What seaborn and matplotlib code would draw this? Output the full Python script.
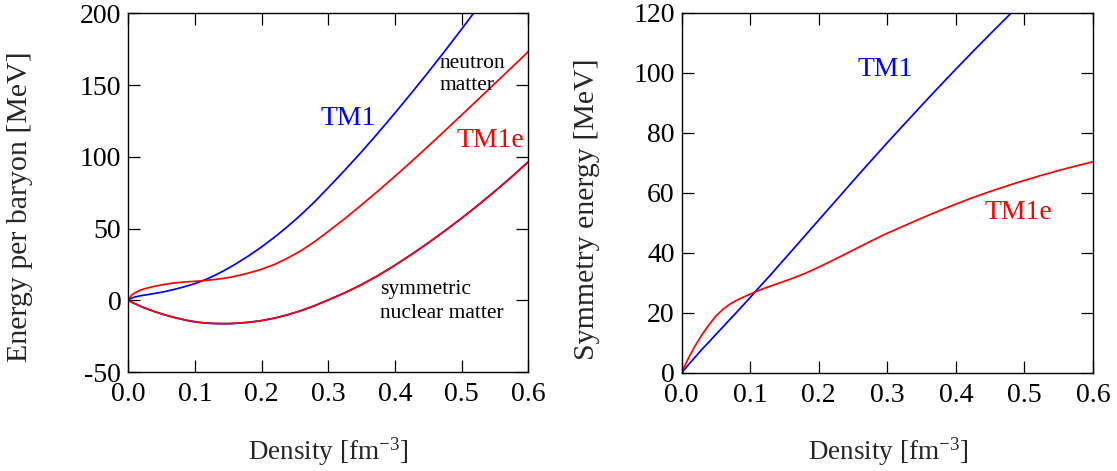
import matplotlib
matplotlib.use("Agg")
import matplotlib.pyplot as plt
import seaborn as sns
import pandas as pd

# ---------------- data ----------------
density = [0.0, 0.005, 0.01, 0.02, 0.03, 0.04, 0.05, 0.06, 0.07, 0.08, 0.09,
           0.10, 0.11, 0.12, 0.13, 0.14, 0.15, 0.16, 0.18, 0.20, 0.22, 0.24,
           0.26, 0.28, 0.30, 0.325, 0.35, 0.375, 0.40, 0.425, 0.45, 0.475,
           0.50, 0.525, 0.55, 0.575, 0.60]

# symmetric nuclear matter, energy per baryon (TM1 and TM1e identical)
snm_energy = [0.0, -1.3, -2.4, -4.5, -6.3, -8.0, -9.5, -10.9, -12.1, -13.2, -14.2,
              -15.0, -15.6, -16.0, -16.2, -16.3, -16.3, -16.1, -15.4, -14.2, -12.4, -10.0,
              -7.1, -3.7, 0.2, 5.2, 10.9, 17.3, 24.4, 32.0, 40.0, 48.4,
              57.2, 66.4, 76.0, 86.0, 96.5]

# pure neutron matter, energy per baryon
nm_tm1 = [0.0, 1.5, 2.3, 3.3, 4.0, 4.8, 5.6, 6.6, 7.7, 8.9, 10.2,
          11.6, 13.3, 15.2, 17.4, 19.8, 22.3, 25.0, 30.8, 37.2, 44.2, 51.8,
          60.0, 68.9, 78.5, 90.8, 103.5, 116.8, 130.5, 144.6, 159.0, 173.8,
          189.0, 204.5, 220.3, 236.4, 253.0]
nm_tm1e = [0.0, 3.6, 5.2, 7.4, 8.7, 9.8, 10.7, 11.5, 12.1, 12.5, 12.9,
           13.2, 13.6, 14.0, 14.5, 15.1, 15.8, 16.7, 18.9, 21.6, 25.1, 29.6,
           34.8, 41.0, 48.0, 57.0, 66.5, 76.3, 86.4, 96.8, 107.4, 118.2,
           129.1, 140.1, 151.1, 162.2, 173.3]

# symmetry energy
esym_tm1 = [0.0, 1.4, 2.8, 5.4, 8.0, 10.4, 12.9, 15.3, 17.8, 20.2, 22.7,
            25.2, 27.8, 30.3, 32.8, 35.4, 38.0, 40.6, 45.8, 51.0, 56.2, 61.4,
            66.6, 71.7, 76.8, 83.0, 89.2, 95.3, 101.3, 107.2, 113.0, 118.7,
            124.3, 129.8, 135.3, 140.7, 146.0]
esym_tm1e = [0.0, 2.6, 5.0, 9.2, 12.9, 16.1, 19.0, 21.2, 22.9, 24.2, 25.3,
             26.3, 27.3, 28.2, 29.0, 29.8, 30.6, 31.4, 33.2, 35.3, 37.5, 39.8,
             42.1, 44.4, 46.6, 49.1, 51.6, 54.0, 56.3, 58.5, 60.5, 62.4,
             64.2, 65.9, 67.5, 69.0, 70.4]

x_ticks = [0.0, 0.1, 0.2, 0.3, 0.4, 0.5, 0.6]
x_ticklabels = ["0.0", "0.1", "0.2", "0.3", "0.4", "0.5", "0.6"]
left_yticks = [-50, 0, 50, 100, 150, 200]
right_yticks = [0, 20, 40, 60, 80, 100, 120]

# ---------------- style ----------------
sns.set_style("ticks")
plt.rcParams["font.family"] = ["Liberation Serif", "DejaVu Serif"]
plt.rcParams["mathtext.fontset"] = "custom"
plt.rcParams["mathtext.rm"] = "Liberation Serif"
plt.rcParams["mathtext.default"] = "regular"
plt.rcParams["axes.unicode_minus"] = False

BLUE = "#0000ff"
RED = "#ff0000"
LW = 1.25

fig = plt.figure(figsize=(11.17, 4.71), dpi=100)
W, H = 1117.0, 471.0
axL = fig.add_axes([128.3 / W, 1 - 372.0 / H, 400.0 / W, (372.0 - 13.3) / H])
axR = fig.add_axes([681.7 / W, 1 - 373.0 / H, (1093.0 - 681.7) / W, (373.0 - 13.0) / H])

df = pd.DataFrame({"density": density, "snm": snm_energy, "nm_tm1": nm_tm1,
                   "nm_tm1e": nm_tm1e, "esym_tm1": esym_tm1, "esym_tm1e": esym_tm1e})

# left panel
sns.lineplot(data=df, x="density", y="snm", ax=axL, color=BLUE, lw=LW, errorbar=None)
sns.lineplot(data=df, x="density", y="snm", ax=axL, color=RED, lw=LW, errorbar=None)
sns.lineplot(data=df, x="density", y="nm_tm1", ax=axL, color=BLUE, lw=LW, errorbar=None)
sns.lineplot(data=df, x="density", y="nm_tm1e", ax=axL, color=RED, lw=LW, errorbar=None)

# right panel
sns.lineplot(data=df, x="density", y="esym_tm1", ax=axR, color=BLUE, lw=LW, errorbar=None)
sns.lineplot(data=df, x="density", y="esym_tm1e", ax=axR, color=RED, lw=LW, errorbar=None)

for ax, yt, ylim in ((axL, left_yticks, (-50, 200)), (axR, right_yticks, (0, 120))):
    ax.set_xlim(0, 0.6)
    ax.set_ylim(*ylim)
    ax.set_xticks(x_ticks)
    ax.set_xticklabels(x_ticklabels)
    ax.set_yticks(yt)
    ax.set_yticklabels([str(v) for v in yt])
    ax.tick_params(direction="in", length=8.5, width=0.9, top=True, right=True,
                   labelsize=20, colors="black")
    ax.tick_params(axis="x", pad=7)
    ax.tick_params(axis="y", pad=5)
    for s in ax.spines.values():
        s.set_visible(True)
        s.set_linewidth(1.0)
        s.set_color("black")
    ax.set_xlabel("")
    ax.set_ylabel("")

# axis labels
xlab = r"Density [fm$^{-3}$]"
fig.text(328.5 / W, 1 - 460.0 / H, xlab, ha="center", va="baseline", fontsize=19.5)
fig.text(888.0 / W, 1 - 460.0 / H, xlab, ha="center", va="baseline", fontsize=19.5)
fig.text(20.0 / W, 1 - 206.5 / H, "Energy per baryon [MeV]", rotation=90,
         ha="center", va="center", fontsize=21.5)
fig.text(587.0 / W, 1 - 209.5 / H, "Symmetry energy [MeV]", rotation=90,
         ha="center", va="center", fontsize=21.5)

# annotations, left panel
axL.text(0.288, 122, "TM1", color=BLUE, fontsize=20, ha="left", va="baseline")
axL.text(0.4926, 107, "TM1e", color=RED, fontsize=20, ha="left", va="baseline")
axL.text(0.4675, 162, "neutron", color="black", fontsize=15.5, ha="left", va="baseline")
axL.text(0.4675, 146.5, "matter", color="black", fontsize=15.5, ha="left", va="baseline")
axL.text(0.3775, 4.6, "symmetric", color="black", fontsize=15.5, ha="left", va="baseline")
axL.text(0.3775, -12.3, "nuclear matter", color="black", fontsize=15.5, ha="left", va="baseline")

# annotations, right panel
axR.text(0.257, 99, "TM1", color=BLUE, fontsize=20, ha="left", va="baseline")
axR.text(0.4415, 51.2, "TM1e", color=RED, fontsize=20, ha="left", va="baseline")

fig.savefig("out.png", dpi=100)
